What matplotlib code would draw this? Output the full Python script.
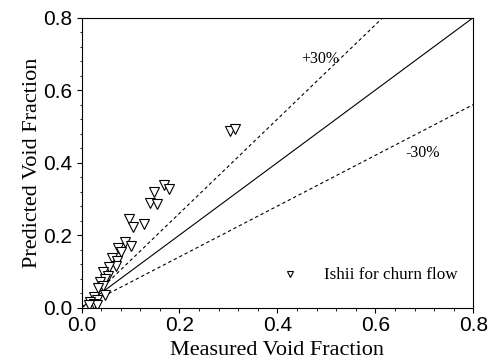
import matplotlib
matplotlib.use("Agg")
import matplotlib.pyplot as plt
import numpy as np
from matplotlib.ticker import MultipleLocator, FormatStrFormatter

# measured vs predicted void fraction
measured = [0.304, 0.314, 0.169, 0.178, 0.148, 0.139, 0.154, 0.098, 0.105, 0.127,
            0.089, 0.101, 0.075, 0.080, 0.063, 0.073, 0.071, 0.057, 0.043, 0.054,
            0.047, 0.037, 0.043, 0.034, 0.048, 0.025, 0.032, 0.018, 0.025, 0.032,
            0.015]
predicted = [0.487, 0.493, 0.338, 0.328, 0.320, 0.288, 0.286, 0.244, 0.221, 0.230,
             0.180, 0.170, 0.165, 0.152, 0.137, 0.129, 0.115, 0.111, 0.097, 0.087,
             0.078, 0.070, 0.060, 0.054, 0.036, 0.030, 0.021, 0.015, 0.010, 0.008,
             0.008]
bounds = [1.3, 0.7]
bound_labels = ["+30%", "-30%"]
bound_label_pos = [(0.488, 0.687), (0.697, 0.427)]

serif = "Liberation Serif"
plt.rcParams["font.family"] = "Liberation Sans"


def main():
    fig = plt.figure(figsize=(5, 3.61), dpi=100)
    ax = fig.add_axes([0.163, 0.148, 0.7836, 0.8033])

    line = np.array([0.0, 0.8])
    ax.plot(line, line, color="black", lw=0.8)
    for b in bounds:
        ax.plot(line, b * line, color="black", lw=0.8, ls=(0, (3, 2.5)))
    for lab, (tx, ty) in zip(bound_labels, bound_label_pos):
        ax.text(tx, ty, lab, fontsize=11.5, family=serif, ha="center", va="center")

    ax.plot(measured, predicted, ls="none", marker="v", markersize=7.5,
            markerfacecolor="white", markeredgecolor="black", markeredgewidth=0.8,
            label="Ishii for churn flow")

    ax.set_xlim(0, 0.8)
    ax.set_ylim(0, 0.8)
    ax.xaxis.set_major_locator(MultipleLocator(0.2))
    ax.xaxis.set_minor_locator(MultipleLocator(0.04))
    ax.yaxis.set_major_locator(MultipleLocator(0.2))
    ax.yaxis.set_minor_locator(MultipleLocator(0.04))
    ax.xaxis.set_major_formatter(FormatStrFormatter("%.1f"))
    ax.yaxis.set_major_formatter(FormatStrFormatter("%.1f"))
    ax.tick_params(which="both", direction="out", top=False, right=False)
    ax.tick_params(which="major", length=3.6, width=0.8, labelsize=15)
    ax.tick_params(which="minor", length=1.8, width=0.6)
    ax.tick_params(axis="x", which="major", pad=2.5)
    ax.tick_params(axis="y", which="major", pad=3)

    ax.set_xlabel("Measured Void Fraction", fontsize=16, family=serif, labelpad=4)
    ax.set_ylabel("Predicted Void Fraction", fontsize=16, family=serif, labelpad=1)

    ax.legend(loc="lower right", frameon=False, prop={"family": serif, "size": 12.3},
              markerscale=0.65, handletextpad=1.0, bbox_to_anchor=(1.0, 0.03))

    for sp in ax.spines.values():
        sp.set_linewidth(0.8)

    plt.savefig("out.png", dpi=100)
    plt.close()


if __name__ == "__main__":
    main()
